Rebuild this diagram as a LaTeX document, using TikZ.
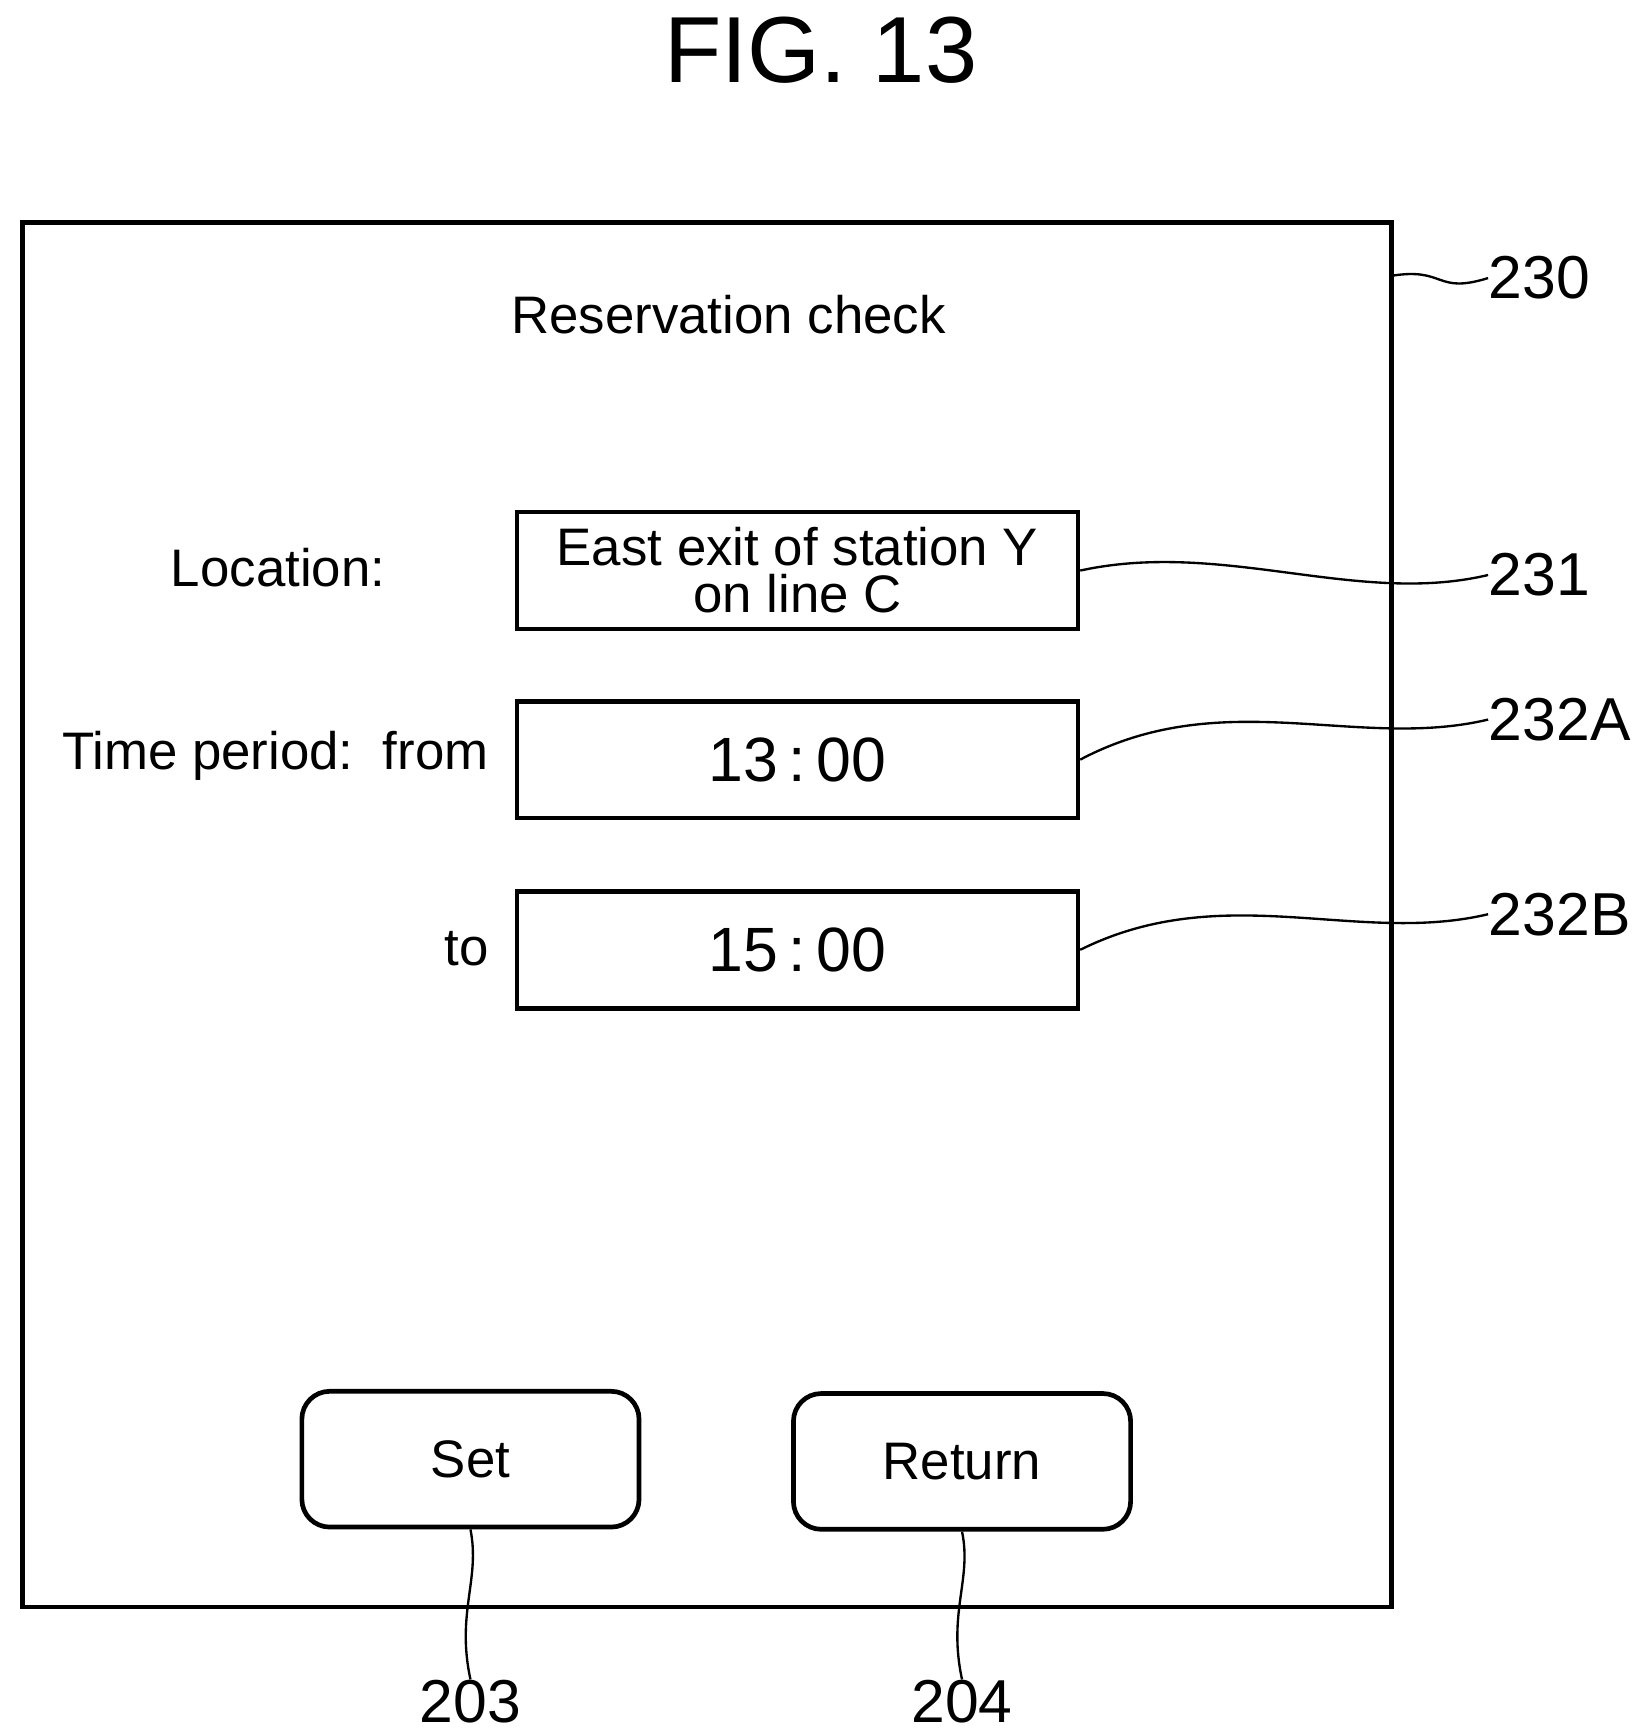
\documentclass[tikz,border=0pt]{standalone}
\usepackage{fontspec}
\setmainfont{Liberation Sans}
\usetikzlibrary{positioning}
\begin{document}
\begin{tikzpicture}[
    x=0.01cm, y=-0.01cm,
    field/.style={draw, line width=1.2pt, minimum width=5.04cm, minimum height=1.05cm, align=center, inner sep=0pt, font=\fontsize{13.5}{14}\selectfont},
    button/.style={draw, line width=1.2pt, rounded corners=0.25cm, minimum width=3.03cm, minimum height=1.22cm, font=\fontsize{13.5}{14}\selectfont},
    txt/.style={font=\fontsize{13.5}{14}\selectfont, inner sep=0pt},
    ref/.style={font=\fontsize{15.5}{16}\selectfont, inner sep=0pt},
    lead/.style={line width=0.6pt}
]
\useasboundingbox (0,0) rectangle (1470,1560);

% Title
\node[font=\fontsize{24}{26}\selectfont] (title) at (738,45) {FIG. 13};

% Screen
\draw[line width=1.2pt] (20,200) rectangle (1251,1445);
\coordinate (scr) at (1251,248);
\node[txt] (head) at (655,283) {Reservation check};

% Fields
\node[txt] (loc) at (250,510) {Location:};
\node[field] (f231) at (717,513) {East exit of station Y\\[-2pt]on line C};
\node[txt, anchor=east] (from) at (440,680) {Time period:\ \ from};
\node[field, font=\fontsize{16}{17}\selectfont] (f232a) at (717,683) {13\,:\,00};
\node[txt, anchor=east] (to) at (440,853) {to};
\node[field, font=\fontsize{16}{17}\selectfont] (f232b) at (717,854) {15\,:\,00};

% Buttons
\node[button] (set) at (423,1312) {Set};
\node[button] (ret) at (865,1314) {Return};

% Reference numerals
\node[ref, anchor=west] (n230) at (1338,250) {230};
\node[ref, anchor=west] (n231) at (1338,517) {231};
\node[ref, anchor=west] (n232a) at (1338,647) {232A};
\node[ref, anchor=west] (n232b) at (1338,822) {232B};
\node[ref] (n203) at (423,1530) {203};
\node[ref] (n204) at (865,1530) {204};

% Leaders
\draw[lead] (scr) .. controls (1300,240) and (1290,265) .. (n230.west);
\draw[lead] (f231.east) .. controls (1100,485) and (1220,545) .. (n231.west);
\draw[lead] (f232a.east) .. controls (1100,615) and (1220,675) .. (n232a.west);
\draw[lead] (f232b.east) .. controls (1100,790) and (1220,850) .. (n232b.west);
\draw[lead] (set.south) .. controls (432,1420) and (410,1450) .. (n203.north);
\draw[lead] (ret.south) .. controls (874,1420) and (852,1450) .. (n204.north);
\end{tikzpicture}
\end{document}
